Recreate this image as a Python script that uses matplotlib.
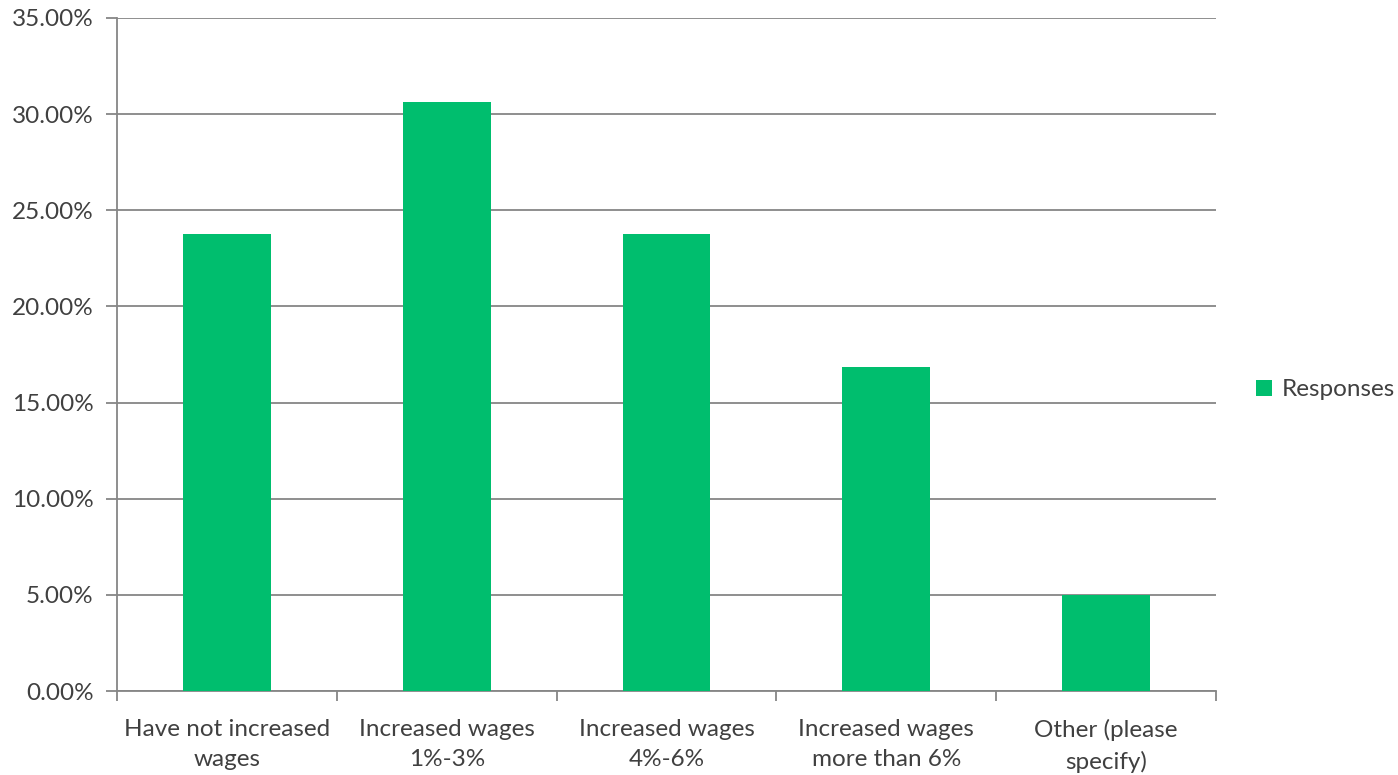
import matplotlib
matplotlib.use("Agg")
import matplotlib.pyplot as plt
from matplotlib.ticker import FuncFormatter, FixedLocator

categories = ["Have not increased\nwages", "Increased wages\n1%-3%", "Increased wages\n4%-6%",
              "Increased wages\nmore than 6%", "Other (please\nspecify)"]
responses = [23.75, 30.63, 23.75, 16.85, 5.0]
series_name = "Responses"

plt.rcParams['font.family'] = ['Lato', 'DejaVu Sans']
fig = plt.figure(figsize=(13.98, 7.75), dpi=100)
W, H = 1398, 775
ax = fig.add_axes([117 / W, 1 - 691 / H, (1216 - 117) / W, (691 - 18) / H])

grid_c = "#868686"
text_c = "#404040"
fs = 17.5
x = list(range(len(categories)))
ax.bar(x, responses, width=0.40, color="#00BE6E", label=series_name, zorder=3)
ax.set_xlim(-0.5, len(categories) - 0.5)
ax.set_ylim(0, 35)
ax.set_yticks([0, 5, 10, 15, 20, 25, 30, 35])
ax.yaxis.set_major_formatter(FuncFormatter(lambda v, p: f"{v:.2f}%"))
ax.grid(axis="y", color=grid_c, linewidth=1.3, zorder=0)
for s in ["top", "right"]:
    ax.spines[s].set_visible(False)
ax.spines["left"].set_color(grid_c)
ax.spines["bottom"].set_color(grid_c)
ax.spines["left"].set_linewidth(1.3)
ax.spines["bottom"].set_linewidth(1.3)
ax.set_xticks(x)
ax.set_xticklabels(categories, fontsize=fs, color=text_c, linespacing=1.55)
ax.xaxis.set_minor_locator(FixedLocator([i - 0.5 for i in range(len(categories) + 1)]))
ax.tick_params(axis="x", which="major", length=0, pad=20)
ax.tick_params(axis="x", which="minor", length=7, color=grid_c, width=1.3)
ax.tick_params(axis="y", length=8, color=grid_c, width=1.3, labelsize=fs, labelcolor=text_c, pad=9)

leg = fig.legend(loc="center left", bbox_to_anchor=(1256 / W, 1 - 390 / H), frameon=False,
                 fontsize=fs, handlelength=0.65, handleheight=0.65, handletextpad=0.4,
                 borderaxespad=0, borderpad=0)
for t in leg.get_texts():
    t.set_color(text_c)

fig.savefig("out.png", dpi=100)
